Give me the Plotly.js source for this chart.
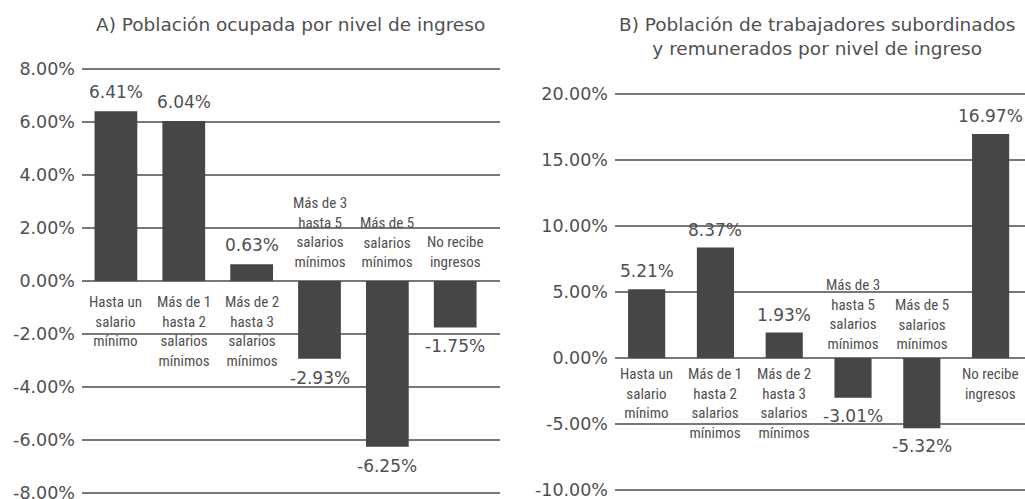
<!DOCTYPE html>
<html><head><meta charset="utf-8">
<script src="https://cdn.plot.ly/plotly-3.0.1.min.js"></script>
<style>body{margin:0;padding:0;background:#fff}#chart{width:1025px;height:499px}</style>
</head><body><div id="chart"></div>
<script>
const categories = ["Hasta un<br>salario<br>mínimo","Más de 1<br>hasta 2<br>salarios<br>mínimos","Más de 2<br>hasta 3<br>salarios<br>mínimos","Más de 3<br>hasta 5<br>salarios<br>mínimos","Más de 5<br>salarios<br>mínimos","No recibe<br>ingresos"];
const valuesA = [6.41, 6.04, 0.63, -2.93, -6.25, -1.75];
const valuesB = [5.21, 8.37, 1.93, -3.01, -5.32, 16.97];
const ticksA = [-8,-6,-4,-2,0,2,4,6,8];
const tickTextA = ["-8.00%","-6.00%","-4.00%","-2.00%","0.00%","2.00%","4.00%","6.00%","8.00%"];
const ticksB = [-10,-5,0,5,10,15,20];
const tickTextB = ["-10.00%","-5.00%","0.00%","5.00%","10.00%","15.00%","20.00%"];
const titleA = "A) Población ocupada por nivel de ingreso";
const titleB = "B) Población de trabajadores subordinados<br>y remunerados por nivel de ingreso";

const barColor = "#464648", gridColor = "#787878", textColor = "#505050";
const tickFont = {family: "DejaVu Sans, Roboto, sans-serif", size: 17.5, color: textColor};
const catFont = {family: "Liberation Sans Narrow, Roboto Condensed, Roboto, sans-serif", size: 15, color: textColor};
const valFont = {family: "DejaVu Sans, Roboto, sans-serif", size: 17, color: textColor};
const titleFont = {family: "DejaVu Sans, Roboto, sans-serif", size: 18.5, color: textColor};

const traces = [
  {type:"bar", x:categories, y:valuesA, xaxis:"x", yaxis:"y", marker:{color:barColor}, width:0.63, hoverinfo:"none"},
  {type:"bar", x:categories, y:valuesB, xaxis:"x2", yaxis:"y2", marker:{color:barColor}, width:0.54, hoverinfo:"none"}
];

const annotations = [];
function addLabels(vals, xr, yr, catUp, catDown, valShift){
  vals.forEach((v,i)=>{
    const pos = v >= 0;
    annotations.push({x:categories[i], y:0, xref:xr, yref:yr, text:categories[i], showarrow:false,
      yanchor: pos ? "top" : "bottom", yshift: pos ? -catDown : catUp, font:catFont, align:"center"});
    annotations.push({x:categories[i], y:v, xref:xr, yref:yr, text:v.toFixed(2)+"%", showarrow:false,
      yanchor:"middle", yshift: pos ? valShift : -valShift, font:valFont});
  });
}
addLabels(valuesA, "x", "y", 8, 10, 19);
addLabels(valuesB, "x2", "y2", 3, 5, 18);
annotations.push({xref:"paper", yref:"paper", x:0.283, y:0.95, xanchor:"center", text:titleA, showarrow:false, font:titleFont, yanchor:"middle"});
annotations.push({xref:"paper", yref:"paper", x:0.797, y:0.927, xanchor:"center", text:titleB, showarrow:false, font:titleFont, yanchor:"middle"});

const yCommon = {showgrid:true, gridcolor:gridColor, gridwidth:2, zeroline:true, zerolinecolor:gridColor, zerolinewidth:2,
  tickmode:"array", tickfont:tickFont, ticks:"", showline:false, fixedrange:true, ticklabeloverflow:"allow", ticklabelstandoff:6};
const layout = {
  width:1025, height:499, margin:{l:0,r:0,t:0,b:0}, showlegend:false,
  paper_bgcolor:"#fff", plot_bgcolor:"#fff",
  xaxis:{domain:[0.08,0.4878], range:[-0.5,5.66], showticklabels:false, showgrid:false, zeroline:false, ticks:""},
  xaxis2:{domain:[0.6,1.0], range:[-0.46,5.5], showticklabels:false, showgrid:false, zeroline:false, ticks:""},
  yaxis:Object.assign({}, yCommon, {domain:[0.0067,0.867], range:[-8.1,8.1], tickvals:ticksA, ticktext:tickTextA}),
  yaxis2:Object.assign({}, yCommon, {anchor:"x2", domain:[0.01275,0.8169], range:[-10.2,20.2], tickvals:ticksB, ticktext:tickTextB}),
  annotations:annotations
};
Plotly.newPlot("chart", traces, layout, {displayModeBar:false, staticPlot:true});
</script></body></html>
